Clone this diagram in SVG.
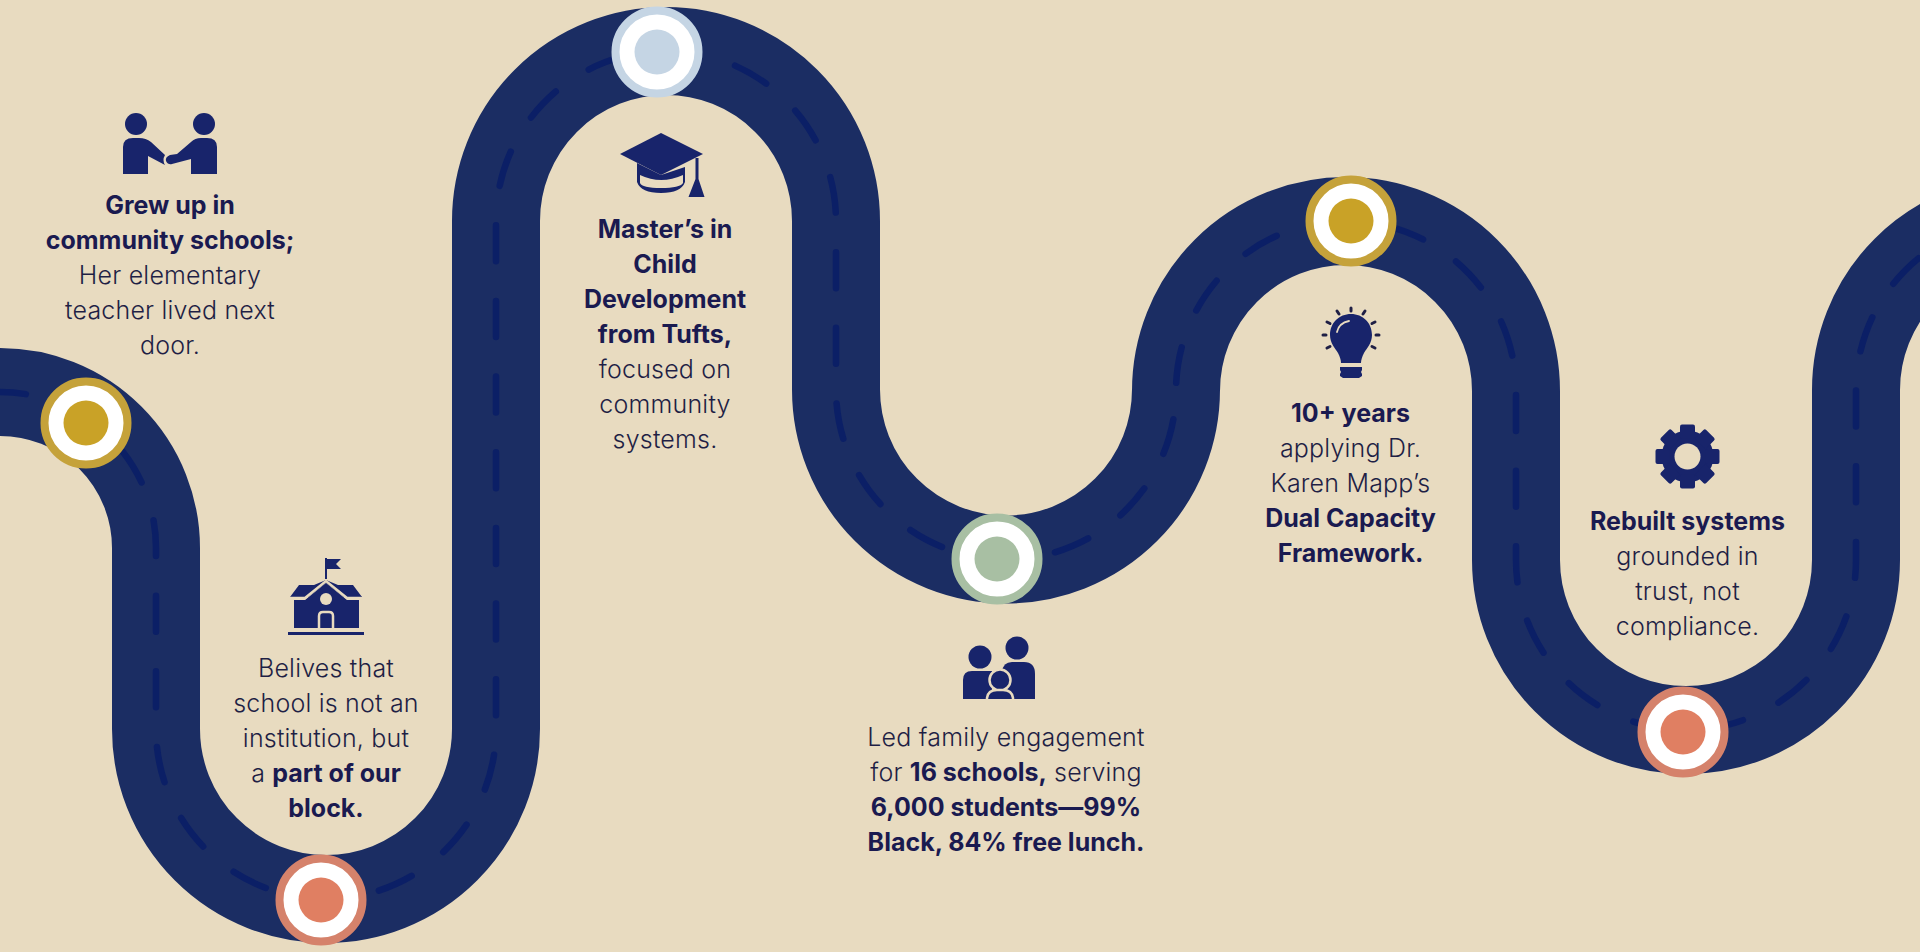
<svg xmlns="http://www.w3.org/2000/svg" width="1920" height="952" viewBox="0 0 1920 952">
<defs>
<style>
.road{fill:none;stroke:#1b2d63;stroke-width:88}
.dash{fill:none;stroke:#0b1f66;stroke-width:6.500;stroke-linecap:round;stroke-dasharray:36 39.660}
.t{font-family:Inter,"Liberation Sans",sans-serif;font-size:25px;font-weight:350;letter-spacing:.2px;fill:#1f1f45;text-anchor:middle}
.t tspan.b,.b{font-weight:700;letter-spacing:0;fill:#1a1a50}
.i{fill:#18246b}
.l{fill:none;stroke:#e8dbc0}
.w{fill:#fff}
</style>
<g id="tooth"><rect x="-7.500" y="-32" width="15" height="14" rx="2"/></g>
</defs>
<rect width="1920" height="952" fill="#e8dbc0"/>
<g id="connectors">
<path class="road" d="M-10 392H0A156 156 0 0 1 156 548V729A170 170 0 0 0 496 729V221A170 170 0 0 1 836 221V389.500A170 170 0 0 0 1176 389.500V391A170 170 0 0 1 1516 391V560A170 170 0 0 0 1856 560V390A170 170 0 0 1 2196 390"/>
<path class="dash" d="M-10 392H0A156 156 0 0 1 156 548V729A170 170 0 0 0 496 729V221A170 170 0 0 1 836 221V389.500A170 170 0 0 0 1176 389.500V391A170 170 0 0 1 1516 391V560A170 170 0 0 0 1856 560V390A170 170 0 0 1 2196 390"/>
</g>
<g id="node-1">
<circle cx="86" cy="423" r="41.500" class="w" stroke="#c5a23a" stroke-width="8"/><circle cx="86" cy="423" r="22.500" fill="#c9a227"/>
<g class="i"><circle cx="136" cy="124" r="11"/><circle cx="204" cy="124" r="11"/>
<path d="M123 174V147Q123 138 133 138H139Q146 138 151 142L165 155Q162 160 165 165L148 156V174Z"/><path d="M217 174V147Q217 138 207 138H201Q195 138 191 142L177 154 170 155Q165 157 166 161 168 165 172 164L191 159V174Z"/></g>
<text class="t" y="214"><tspan class="b" x="170">Grew up in</tspan><tspan class="b" x="170" dy="35">community schools;</tspan><tspan x="170" dy="35">Her elementary</tspan><tspan x="170" dy="35">teacher lived next</tspan><tspan x="170" dy="35">door.</tspan></text>
</g>
<g id="node-2">
<circle cx="321" cy="900" r="41.500" class="w" stroke="#d5826b" stroke-width="8"/><circle cx="321" cy="900" r="22.500" fill="#e07f62"/>
<g class="i"><path d="M325 558h2v1h14l-5 5 5 5h-14v10h-2z"/><path d="M290 597l9-12h15l12-5 12 5h15l9 12h-18l-18-14-18 14z"/><path d="M294 600h11l21-17 21 17h12v28h-65z"/><rect x="288" y="632" width="76" height="3"/></g>
<path class="l" stroke-width="2.500" d="M290 598h15l21-17 21 17h14"/><circle cx="326" cy="599" r="6" fill="#e8dbc0"/><path class="l" stroke-width="2.500" d="M319 628v-12q0-4 4-4h6q4 0 4 4v12"/>
<text class="t" y="677"><tspan x="326">Belives that</tspan><tspan x="326" dy="35">school is not an</tspan><tspan x="326" dy="35">institution, but</tspan><tspan x="326" dy="35">a <tspan class="b">part of our</tspan></tspan><tspan class="b" x="326" dy="35">block.</tspan></text>
</g>
<g id="node-3">
<circle cx="657" cy="52" r="41.500" class="w" stroke="#c5d5e4" stroke-width="8"/><circle cx="657" cy="52" r="22.500" fill="#c5d5e4"/>
<g class="i"><path d="M661 133l42 21-42 21-41-21z"/><path d="M637 163l24 12 24-8v15q-4 11-24 11t-24-11z"/><path d="M695.500 158h3v21l6 18h-16l7-18z"/></g>
<path d="M640 175q21 10 43 0v8q-3 5-22 5t-21-5z" fill="#e8dbc0"/>
<text class="t" x="665" y="238"><tspan class="b" x="665">Master’s in</tspan><tspan class="b" x="665" dy="35">Child</tspan><tspan class="b" x="665" dy="35">Development</tspan><tspan class="b" x="665" dy="35">from Tufts,</tspan><tspan x="665" dy="35">focused on</tspan><tspan x="665" dy="35">community</tspan><tspan x="665" dy="35">systems.</tspan></text>
</g>
<g id="node-4">
<circle cx="997" cy="559" r="41.500" class="w" stroke="#a8bfa3" stroke-width="8"/><circle cx="997" cy="559" r="22.500" fill="#a8bfa3"/>
<g class="i"><circle cx="1017" cy="648" r="11.500"/><circle cx="980" cy="657" r="11.500"/><path d="M963 699V680Q963 671 972 671H992V699Z"/><path d="M1002 699V672Q1003 662 1012 662H1024Q1035 662 1035 674V699Z"/></g>
<circle cx="1000" cy="680" r="10.500" class="i" stroke="#e8dbc0" stroke-width="2.500"/><path d="M987 699v-1q1-8 10-8h6q9 0 10 8v1" class="i" stroke="#e8dbc0" stroke-width="2.500"/><path d="M985 699h32v3h-32z" fill="#e8dbc0"/>
<text class="t" y="746"><tspan x="1006">Led family engagement</tspan><tspan x="1006" dy="35">for <tspan class="b">16 schools,</tspan> serving</tspan><tspan class="b" x="1006" dy="35">6,000 students—99%</tspan><tspan class="b" x="1006" dy="35">Black, 84% free lunch.</tspan></text>
</g>
<g id="node-5">
<circle cx="1351" cy="221" r="41.500" class="w" stroke="#c5a23a" stroke-width="8"/><circle cx="1351" cy="221" r="22.500" fill="#c9a227"/>
<g class="i"><path d="M1351 314c12 0 21 9 21 21 0 8-5 13-8 18-2 4-3 7-3 10h-20c0-3-1-6-3-10-3-5-8-10-8-18 0-12 9-21 21-21z"/><path d="M1340 367h22v3l-1 2 1 2v2l-3 2h-16l-3-2v-2l1-2-1-2z"/></g>
<path d="M1337 332q2-9 12-11" class="l" stroke-width="1.800" stroke-linecap="round"/>
<path d="M1351 308v3M1337 311l2 3M1365 311l-2 3M1327 322l3 1.500M1375 322l-3 1.500M1323 335h3M1376 335h3M1327 348l3-1.500M1375 348l-3-1.500" stroke="#1f1f45" stroke-width="3" stroke-linecap="round" fill="none"/>
<text class="t" y="422"><tspan class="b" x="1350.500">10+ years</tspan><tspan x="1350.500" dy="35">applying Dr.</tspan><tspan x="1350.500" dy="35">Karen Mapp’s</tspan><tspan class="b" x="1350.500" dy="35">Dual Capacity</tspan><tspan class="b" x="1350.500" dy="35">Framework.</tspan></text>
</g>
<g id="node-6">
<circle cx="1683" cy="732" r="41.500" class="w" stroke="#d5826b" stroke-width="8"/><circle cx="1683" cy="732" r="22.500" fill="#e07f62"/>
<g class="i" transform="translate(1687.500 456.500)"><circle r="26"/><use href="#tooth"/><use href="#tooth" transform="rotate(45)"/><use href="#tooth" transform="rotate(90)"/><use href="#tooth" transform="rotate(135)"/><use href="#tooth" transform="rotate(180)"/><use href="#tooth" transform="rotate(225)"/><use href="#tooth" transform="rotate(270)"/><use href="#tooth" transform="rotate(315)"/><circle r="13" fill="#e8dbc0"/></g>
<text class="t" y="530"><tspan class="b" x="1687.500">Rebuilt systems</tspan><tspan x="1687.500" dy="35">grounded in</tspan><tspan x="1687.500" dy="35">trust, not</tspan><tspan x="1687.500" dy="35">compliance.</tspan></text>
</g>
</svg>
